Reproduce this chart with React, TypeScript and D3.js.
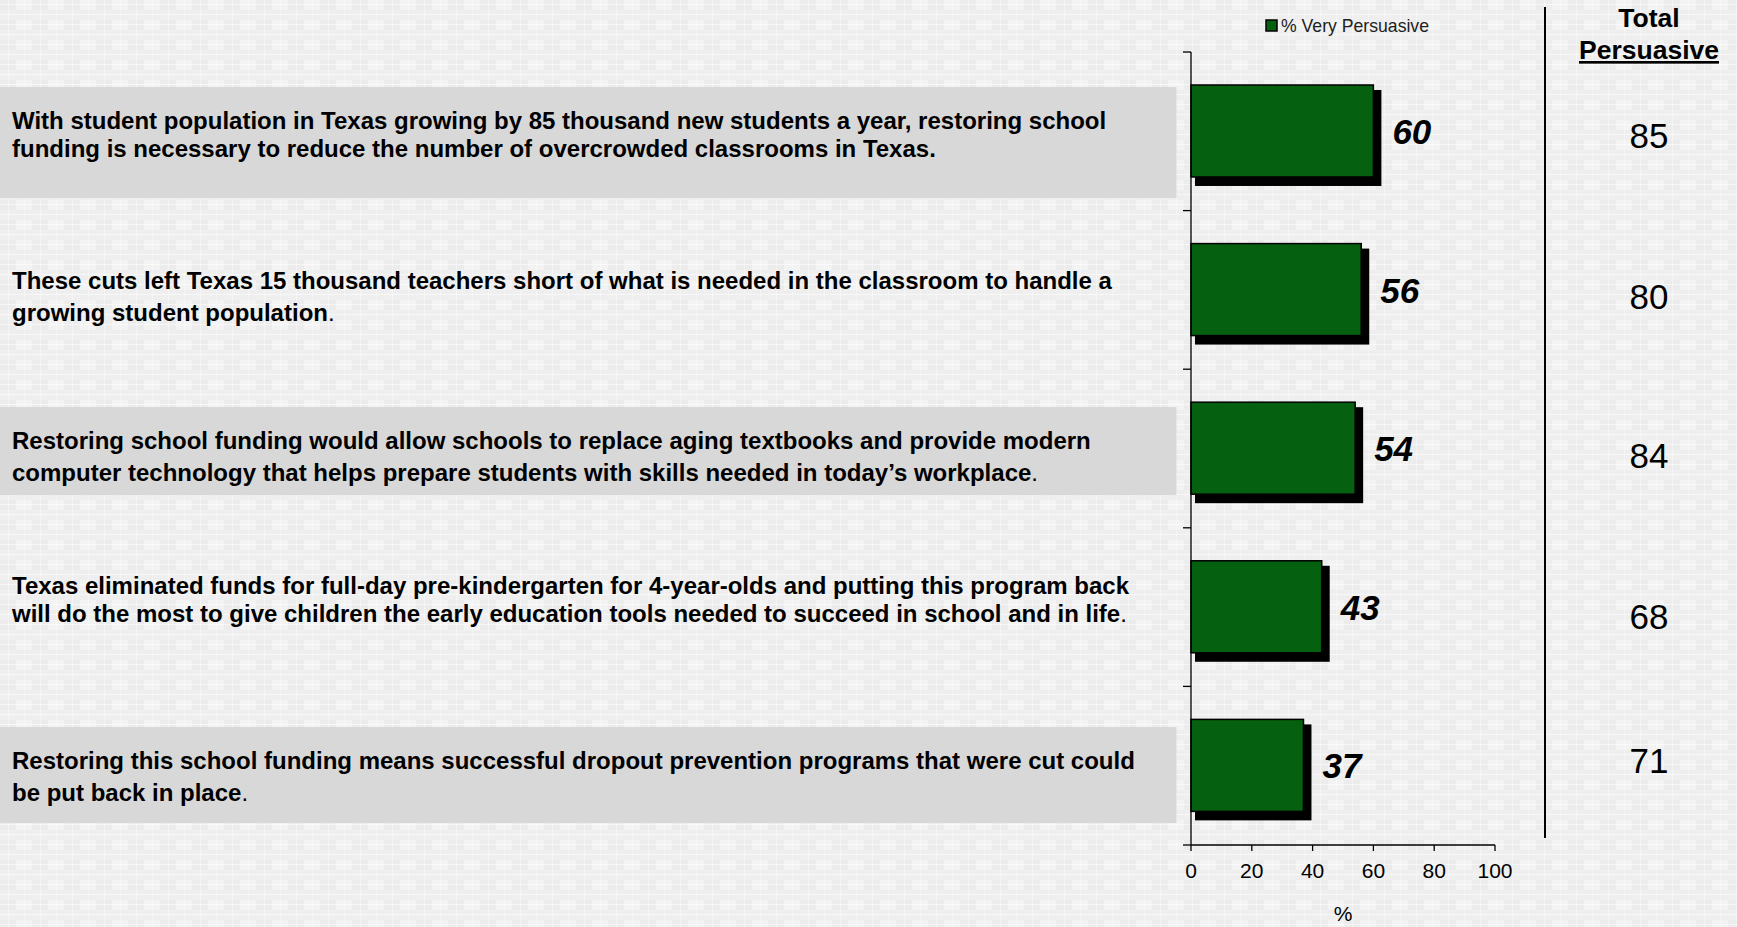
import React from 'react';
import * as d3 from 'd3';

// Statements, one per row (already split into the two lines seen in the chart)
const statements: string[][] = [
  [
    'With student population in Texas growing by 85 thousand new students a year, restoring school',
    'funding is necessary to reduce the number of overcrowded classrooms in Texas.',
  ],
  [
    'These cuts left Texas 15 thousand teachers short of what is needed in the classroom to handle a',
    'growing student population',
  ],
  [
    'Restoring school funding would allow schools to replace aging textbooks and provide modern',
    'computer technology that helps prepare students with skills needed in today\u2019s workplace',
  ],
  [
    'Texas eliminated funds for full-day pre-kindergarten for 4-year-olds and putting this program back',
    'will do the most to give children the early education tools needed to succeed in school and in life',
  ],
  [
    'Restoring this school funding means successful dropout prevention programs that were cut could',
    'be put back in place',
  ],
];

const veryPersuasive = [60, 56, 54, 43, 37];
const totalPersuasive = [85, 80, 84, 68, 71];
const xTicks = [0, 20, 40, 60, 80, 100];
const legendLabel = '% Very Persuasive';

// per-row text block layout (gray box where the slide had one)
const rowLayout = [
  { box: [87, 198], base: 129, gap: 28, plainDot: false },
  { box: null, base: 289, gap: 32, plainDot: true },
  { box: [407, 495], base: 449, gap: 32, plainDot: true },
  { box: null, base: 594, gap: 28, plainDot: true },
  { box: [727, 823], base: 769, gap: 32, plainDot: true },
];
const totalBaselines = [148, 309, 468, 629, 773];

const W = 1737;
const H = 927;
const GREEN = '#05600f';
const FONT = "'Liberation Sans', Arial, Helvetica, sans-serif";

export default function App() {
  const ids = d3.range(statements.length).map(String);
  const x = d3.scaleLinear().domain([0, 100]).range([1191, 1495]);
  const y = d3.scaleBand<string>().domain(ids).range([52, 845]).padding(0);
  const bw = y.bandwidth();
  const barH = bw * 0.58;
  const barOff = bw * 0.208;

  return (
    <svg width={W} height={H} style={{ display: 'block', position: 'absolute', left: 0, top: 0 }} fontFamily={FONT}>
      <defs>
        <pattern id="plaid" width="32" height="20" patternUnits="userSpaceOnUse">
          <rect width="32" height="20" fill="#f3f3f3" />
          <rect width="16" height="10" fill="#ececec" />
          <rect x="16" y="10" width="16" height="10" fill="#eeeeee" />
          <rect x="0" y="10" width="16" height="10" fill="#efefef" />
          <line x1="0" x2="32" y1="4.5" y2="4.5" stroke="#fff" strokeWidth="1" opacity="0.55" />
          <line x1="0" x2="32" y1="14.5" y2="14.5" stroke="#fff" strokeWidth="1" opacity="0.55" />
          <line x1="8.5" x2="8.5" y1="0" y2="20" stroke="#fff" strokeWidth="1" opacity="0.35" />
          <line x1="24.5" x2="24.5" y1="0" y2="20" stroke="#fff" strokeWidth="1" opacity="0.35" />
        </pattern>
      </defs>
      <rect width={W} height={H} fill="url(#plaid)" />

      {/* statement text column */}
      {statements.map((lines, i) => {
        const L = rowLayout[i];
        return (
          <g key={'s' + i}>
            {L.box && <rect x={0} y={L.box[0]} width={1176.5} height={L.box[1] - L.box[0]} fill="#d8d8d8" />}
            {lines.map((ln, j) => (
              <text key={j} x={12} y={L.base + j * L.gap} fontSize={24} fontWeight="bold" fill="#000">
                {ln}
                {j === lines.length - 1 && L.plainDot ? <tspan fontWeight="normal">.</tspan> : null}
              </text>
            ))}
          </g>
        );
      })}

      {/* bars */}
      {veryPersuasive.map((v, i) => {
        const y0 = (y(ids[i]) as number) + barOff;
        const x1 = x(v);
        return (
          <g key={'b' + i}>
            <rect x={x(0) + 4} y={y0 + 5} width={x1 - x(0) + 4} height={barH + 4} fill="#000" />
            <rect x={x(0)} y={y0} width={x1 - x(0)} height={barH} fill={GREEN} stroke="#000" strokeWidth={1.5} />
            <text x={x1 + 19} y={y0 + barH / 2 + 13} fontSize={35} fontWeight="bold" fontStyle="italic" fill="#000">
              {v}
            </text>
          </g>
        );
      })}

      {/* axes */}
      <g stroke="#000" strokeWidth={1.3}>
        <line x1={x(0)} x2={x(0)} y1={52} y2={845} />
        <line x1={x(0)} x2={x(100)} y1={845} y2={845} />
        {ids.concat(['end']).map((id, i) => {
          const yy = i < ids.length ? (y(id) as number) : 845;
          return <line key={'yt' + i} x1={x(0) - 8} x2={x(0)} y1={yy} y2={yy} />;
        })}
        {xTicks.map((t) => (
          <line key={'xt' + t} x1={x(t)} x2={x(t)} y1={845} y2={851} />
        ))}
      </g>
      {xTicks.map((t) => (
        <text key={'xl' + t} x={x(t)} y={878} fontSize={21} textAnchor="middle" fill="#000">
          {t}
        </text>
      ))}
      <text x={(x(0) + x(100)) / 2} y={921} fontSize={21} textAnchor="middle" fill="#000">
        %
      </text>

      {/* legend */}
      <rect x={1266} y={20} width={11} height={11} fill={GREEN} stroke="#000" strokeWidth={1.5} />
      <text x={1281} y={32} fontSize={19} fill="#222" textLength={148} lengthAdjust="spacingAndGlyphs">
        {legendLabel}
      </text>

      {/* total persuasive column */}
      <line x1={1545} x2={1545} y1={7} y2={838} stroke="#000" strokeWidth={2} />
      <text x={1649} y={27} fontSize={26.5} fontWeight="bold" textAnchor="middle" fill="#000">
        Total
      </text>
      <text x={1649} y={59} fontSize={26.5} fontWeight="bold" textAnchor="middle" fill="#000" textDecoration="underline">
        Persuasive
      </text>
      {totalPersuasive.map((v, i) => (
        <text key={'t' + i} x={1649} y={totalBaselines[i]} fontSize={35} textAnchor="middle" fill="#000">
          {v}
        </text>
      ))}
    </svg>
  );
}
